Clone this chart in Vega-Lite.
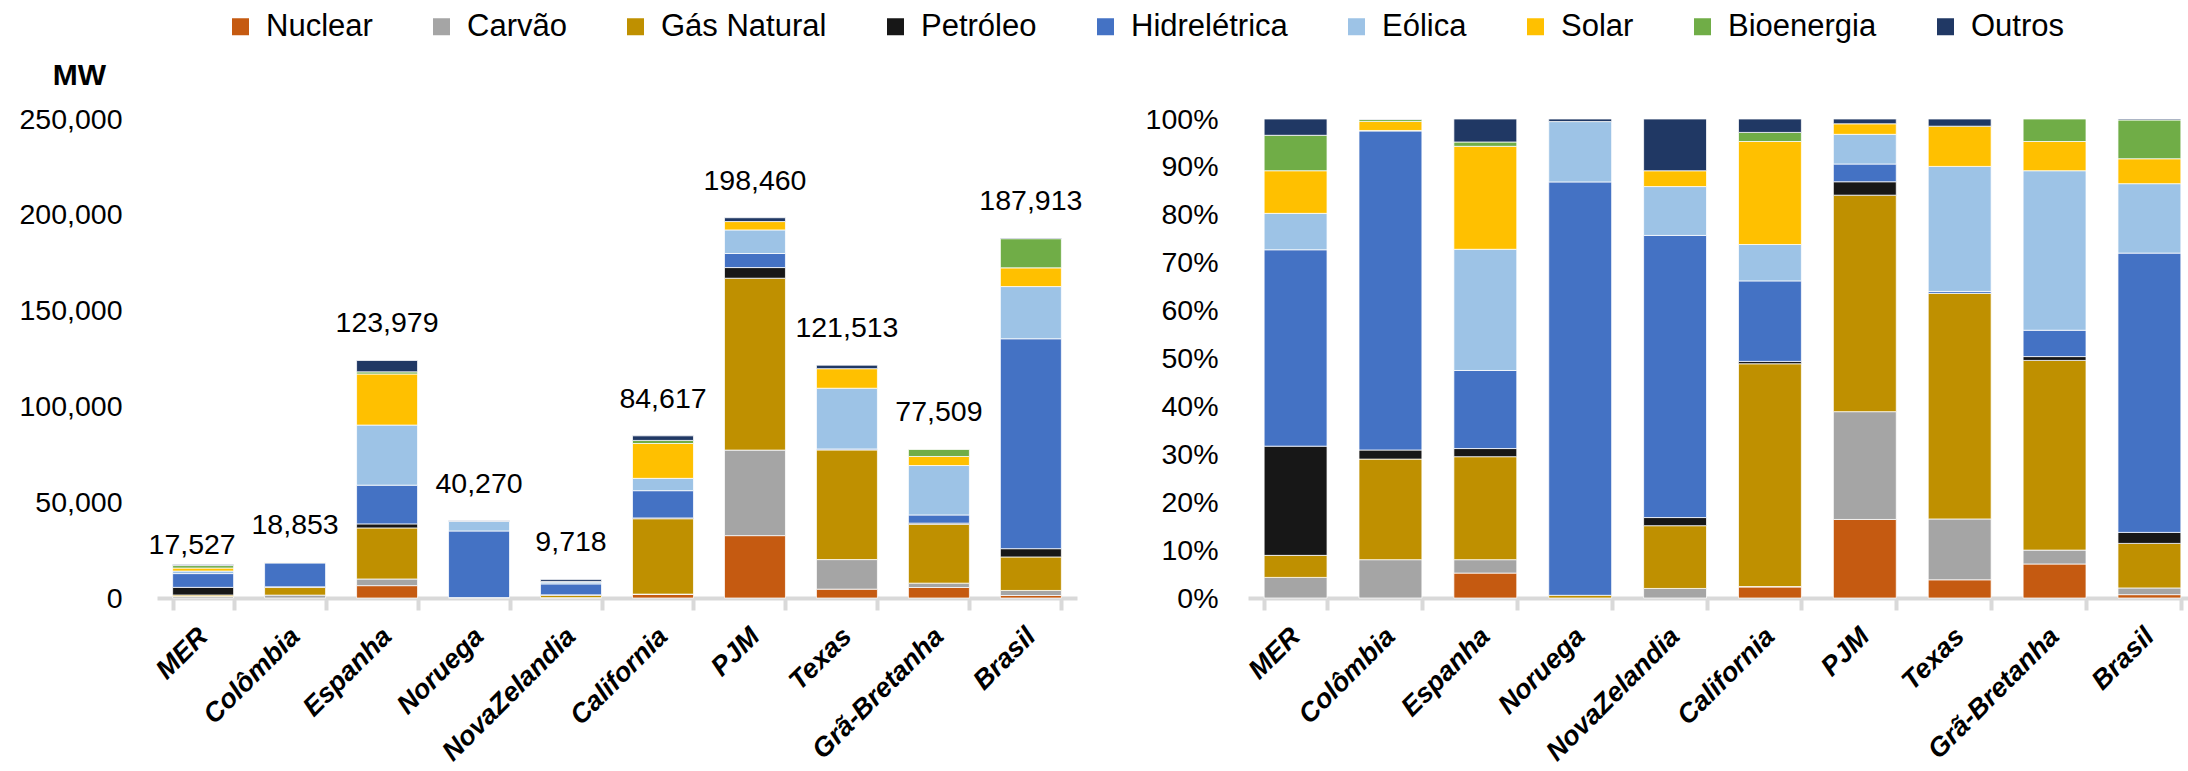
{
  "$schema": "https://vega.github.io/schema/vega-lite/v6.json",
  "padding": {"left": 18, "top": 11, "right": 0, "bottom": 0},
  "bounds": "flush",
  "spacing": 171,
  "background": "white",
  "config": {
    "font": "Liberation Sans",
    "view": {"stroke": null},
    "axis": {"labelFont": "Liberation Sans", "labelColor": "#000000", "labelFontSize": 28.5, "grid": false},
    "legend": {"direction": "horizontal", "symbolType": "square", "symbolSize": 289, "labelFontSize": 31, "labelOffset": 10, "columnPadding": 53, "symbolStrokeWidth": 0, "padding": 0, "labelLimit": 0, "labelColor": "#000000", "labelFont": "Liberation Sans"}
  },
  "datasets": {
    "cap": [
      {"pais": "MER", "fonte": "Carvão", "mw": 754},
      {"pais": "MER", "fonte": "Gás Natural", "mw": 806},
      {"pais": "MER", "fonte": "Petróleo", "mw": 3996},
      {"pais": "MER", "fonte": "Hidrelétrica", "mw": 7186},
      {"pais": "MER", "fonte": "Eólica", "mw": 1332},
      {"pais": "MER", "fonte": "Solar", "mw": 1560},
      {"pais": "MER", "fonte": "Bioenergia", "mw": 1297},
      {"pais": "MER", "fonte": "Outros", "mw": 596},
      {"pais": "Colômbia", "fonte": "Carvão", "mw": 1508},
      {"pais": "Colômbia", "fonte": "Gás Natural", "mw": 3959},
      {"pais": "Colômbia", "fonte": "Petróleo", "mw": 358},
      {"pais": "Colômbia", "fonte": "Hidrelétrica", "mw": 12557},
      {"pais": "Colômbia", "fonte": "Eólica", "mw": 19},
      {"pais": "Colômbia", "fonte": "Solar", "mw": 358},
      {"pais": "Colômbia", "fonte": "Bioenergia", "mw": 75},
      {"pais": "Colômbia", "fonte": "Outros", "mw": 19},
      {"pais": "Espanha", "fonte": "Nuclear", "mw": 6447},
      {"pais": "Espanha", "fonte": "Carvão", "mw": 3471},
      {"pais": "Espanha", "fonte": "Gás Natural", "mw": 26655},
      {"pais": "Espanha", "fonte": "Petróleo", "mw": 2108},
      {"pais": "Espanha", "fonte": "Hidrelétrica", "mw": 20209},
      {"pais": "Espanha", "fonte": "Eólica", "mw": 31367},
      {"pais": "Espanha", "fonte": "Solar", "mw": 26655},
      {"pais": "Espanha", "fonte": "Bioenergia", "mw": 1116},
      {"pais": "Espanha", "fonte": "Outros", "mw": 5951},
      {"pais": "Noruega", "fonte": "Gás Natural", "mw": 226},
      {"pais": "Noruega", "fonte": "Hidrelétrica", "mw": 34753},
      {"pais": "Noruega", "fonte": "Eólica", "mw": 5074},
      {"pais": "Noruega", "fonte": "Outros", "mw": 217},
      {"pais": "NovaZelandia", "fonte": "Carvão", "mw": 194},
      {"pais": "NovaZelandia", "fonte": "Gás Natural", "mw": 1273},
      {"pais": "NovaZelandia", "fonte": "Petróleo", "mw": 165},
      {"pais": "NovaZelandia", "fonte": "Hidrelétrica", "mw": 5724},
      {"pais": "NovaZelandia", "fonte": "Eólica", "mw": 991},
      {"pais": "NovaZelandia", "fonte": "Solar", "mw": 321},
      {"pais": "NovaZelandia", "fonte": "Outros", "mw": 1050},
      {"pais": "California", "fonte": "Nuclear", "mw": 1946},
      {"pais": "California", "fonte": "Carvão", "mw": 85},
      {"pais": "California", "fonte": "Gás Natural", "mw": 39346},
      {"pais": "California", "fonte": "Petróleo", "mw": 423},
      {"pais": "California", "fonte": "Hidrelétrica", "mw": 14216},
      {"pais": "California", "fonte": "Eólica", "mw": 6431},
      {"pais": "California", "fonte": "Solar", "mw": 18193},
      {"pais": "California", "fonte": "Bioenergia", "mw": 1608},
      {"pais": "California", "fonte": "Outros", "mw": 2369},
      {"pais": "PJM", "fonte": "Nuclear", "mw": 32547},
      {"pais": "PJM", "fonte": "Carvão", "mw": 44654},
      {"pais": "PJM", "fonte": "Gás Natural", "mw": 89703},
      {"pais": "PJM", "fonte": "Petróleo", "mw": 5557},
      {"pais": "PJM", "fonte": "Hidrelétrica", "mw": 7343},
      {"pais": "PJM", "fonte": "Eólica", "mw": 12305},
      {"pais": "PJM", "fonte": "Solar", "mw": 4366},
      {"pais": "PJM", "fonte": "Outros", "mw": 1985},
      {"pais": "Texas", "fonte": "Nuclear", "mw": 4617},
      {"pais": "Texas", "fonte": "Carvão", "mw": 15432},
      {"pais": "Texas", "fonte": "Gás Natural", "mw": 57233},
      {"pais": "Texas", "fonte": "Hidrelétrica", "mw": 486},
      {"pais": "Texas", "fonte": "Eólica", "mw": 31715},
      {"pais": "Texas", "fonte": "Solar", "mw": 10207},
      {"pais": "Texas", "fonte": "Outros", "mw": 1823},
      {"pais": "Grã-Bretanha", "fonte": "Nuclear", "mw": 5503},
      {"pais": "Grã-Bretanha", "fonte": "Carvão", "mw": 2248},
      {"pais": "Grã-Bretanha", "fonte": "Gás Natural", "mw": 30694},
      {"pais": "Grã-Bretanha", "fonte": "Petróleo", "mw": 620},
      {"pais": "Grã-Bretanha", "fonte": "Hidrelétrica", "mw": 4263},
      {"pais": "Grã-Bretanha", "fonte": "Eólica", "mw": 25810},
      {"pais": "Grã-Bretanha", "fonte": "Solar", "mw": 4728},
      {"pais": "Grã-Bretanha", "fonte": "Bioenergia", "mw": 3643},
      {"pais": "Brasil", "fonte": "Nuclear", "mw": 1315},
      {"pais": "Brasil", "fonte": "Carvão", "mw": 2631},
      {"pais": "Brasil", "fonte": "Gás Natural", "mw": 17476},
      {"pais": "Brasil", "fonte": "Petróleo", "mw": 4322},
      {"pais": "Brasil", "fonte": "Hidrelétrica", "mw": 109554},
      {"pais": "Brasil", "fonte": "Eólica", "mw": 27247},
      {"pais": "Brasil", "fonte": "Solar", "mw": 9771},
      {"pais": "Brasil", "fonte": "Bioenergia", "mw": 15221},
      {"pais": "Brasil", "fonte": "Outros", "mw": 376}
    ]
  },
  "hconcat": [
    {
      "width": 920,
      "height": 479,
      "data": {"name": "cap"},
      "layer": [
        {
          "transform": [{"calculate": "indexof(['Nuclear','Carvão','Gás Natural','Petróleo','Hidrelétrica','Eólica','Solar','Bioenergia','Outros'], datum.fonte)", "as": "ord"}],
          "mark": {"type": "bar", "stroke": "#ffffff", "strokeWidth": 0.75},
          "encoding": {
            "x": {"field": "pais", "type": "nominal", "sort": ["MER", "Colômbia", "Espanha", "Noruega", "NovaZelandia", "California", "PJM", "Texas", "Grã-Bretanha", "Brasil"],
              "scale": {"paddingInner": 0.337, "paddingOuter": 0.17},
              "axis": {"title": null, "labelAngle": -45, "labelAlign": "right", "labelBaseline": "middle", "labelFontSize": 27, "labelFontWeight": "bold", "labelFontStyle": "italic", "labelLimit": 0, "domainColor": "#d9d9d9", "domainWidth": 4, "tickColor": "#d9d9d9", "tickWidth": 4, "tickSize": 12, "tickBand": "extent", "labelPadding": 22}},
            "y": {"field": "mw", "type": "quantitative", "stack": "zero", "scale": {"domain": [0, 250000], "nice": false},
              "axis": {"values": [0, 50000, 100000, 150000, 200000, 250000], "format": ",.0f", "domain": false, "ticks": false, "labelPadding": 35, "title": "MW", "titleAngle": 0, "titleX": -78, "titleY": -44, "titleAlign": "center", "titleBaseline": "middle", "titleFontSize": 30, "titleFontWeight": "bold", "titleColor": "#000000"}},
            "order": {"field": "ord", "type": "quantitative"},
            "color": {"field": "fonte", "type": "nominal", "sort": ["Nuclear", "Carvão", "Gás Natural", "Petróleo", "Hidrelétrica", "Eólica", "Solar", "Bioenergia", "Outros"],
              "scale": {"domain": ["Nuclear", "Carvão", "Gás Natural", "Petróleo", "Hidrelétrica", "Eólica", "Solar", "Bioenergia", "Outros"], "range": ["#C55A11", "#A5A5A5", "#BF9000", "#171717", "#4472C4", "#9DC3E6", "#FFC000", "#70AD47", "#203864"]},
              "legend": {"title": null, "orient": "none", "legendX": 68, "legendY": -108}}
          }
        },
        {
          "transform": [{"filter": "datum.pais !== 'MER'"}],
          "mark": {"type": "text", "baseline": "alphabetic", "dy": -28, "fontSize": 28.5, "color": "#000000"},
          "encoding": {
            "x": {"field": "pais", "type": "nominal", "sort": ["MER", "Colômbia", "Espanha", "Noruega", "NovaZelandia", "California", "PJM", "Texas", "Grã-Bretanha", "Brasil"]},
            "y": {"aggregate": "sum", "field": "mw", "type": "quantitative", "scale": {"domain": [0, 250000], "nice": false}},
            "text": {"aggregate": "sum", "field": "mw", "type": "quantitative", "format": ","}
          }
        },
        {
          "transform": [{"filter": "datum.pais === 'MER'"}],
          "mark": {"type": "text", "baseline": "alphabetic", "dy": -10, "dx": -11, "fontSize": 28.5, "color": "#000000"},
          "encoding": {
            "x": {"field": "pais", "type": "nominal", "sort": ["MER", "Colômbia", "Espanha", "Noruega", "NovaZelandia", "California", "PJM", "Texas", "Grã-Bretanha", "Brasil"]},
            "y": {"aggregate": "sum", "field": "mw", "type": "quantitative", "scale": {"domain": [0, 250000], "nice": false}},
            "text": {"aggregate": "sum", "field": "mw", "type": "quantitative", "format": ","}
          }
        }
      ]
    },
    {
      "width": 949,
      "height": 479,
      "data": {"name": "cap"},
      "transform": [{"calculate": "indexof(['Nuclear','Carvão','Gás Natural','Petróleo','Hidrelétrica','Eólica','Solar','Bioenergia','Outros'], datum.fonte)", "as": "ord"}],
      "mark": {"type": "bar", "stroke": "#ffffff", "strokeWidth": 0.75},
      "encoding": {
        "x": {"field": "pais", "type": "nominal", "sort": ["MER", "Colômbia", "Espanha", "Noruega", "NovaZelandia", "California", "PJM", "Texas", "Grã-Bretanha", "Brasil"],
          "scale": {"paddingInner": 0.337, "paddingOuter": 0.17},
          "axis": {"title": null, "labelAngle": -45, "labelAlign": "right", "labelBaseline": "middle", "labelFontSize": 27, "labelFontWeight": "bold", "labelFontStyle": "italic", "labelLimit": 0, "domainColor": "#d9d9d9", "domainWidth": 4, "tickColor": "#d9d9d9", "tickWidth": 4, "tickSize": 12, "tickBand": "extent", "labelPadding": 22}},
        "y": {"field": "mw", "type": "quantitative", "stack": "normalize",
          "axis": {"values": [0, 0.1, 0.2, 0.3, 0.4, 0.5, 0.6, 0.7, 0.8, 0.9, 1], "format": ".0%", "domain": false, "ticks": false, "labelPadding": 30, "title": null}},
        "order": {"field": "ord", "type": "quantitative"},
        "color": {"field": "fonte", "type": "nominal", "sort": ["Nuclear", "Carvão", "Gás Natural", "Petróleo", "Hidrelétrica", "Eólica", "Solar", "Bioenergia", "Outros"],
          "legend": {"title": null, "orient": "none", "legendX": 68, "legendY": -108}}
      }
    }
  ]
}
